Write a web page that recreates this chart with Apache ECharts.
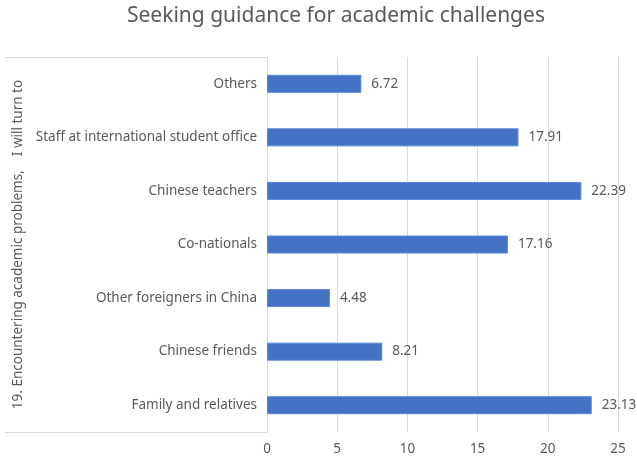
<!DOCTYPE html>
<html>
<head>
<meta charset="utf-8">
<script src="https://cdn.jsdelivr.net/npm/echarts@6/dist/echarts.min.js"></script>
<style>
  html, body { margin: 0; padding: 0; background: #fff; }
  #chart { width: 637px; height: 458px; }
</style>
</head>
<body>
<div id="chart"></div>
<script>
// --- Data (bottom to top, as drawn) ---
const categories = [
    'Family and relatives',
    'Chinese friends',
    'Other foreigners in China',
    'Co-nationals',
    'Chinese teachers',
    'Staff at international student office',
    'Others'
];
const shares = [23.13, 8.21, 4.48, 17.16, 22.39, 17.91, 6.72];
const groupLabel = ['19. Encountering academic problems,\u3000I will turn to'];
const xTicks = { min: 0, max: 25, interval: 5 };

const textGray = '#595959';
const lineGray = '#d9d9d9';
const fontFamily = '"Noto Sans", sans-serif';

const chart = echarts.init(document.getElementById('chart'), null, { renderer: 'canvas' });

chart.setOption({
    animation: false,
    textStyle: { fontFamily: fontFamily },
    title: {
        text: 'Seeking guidance for academic challenges',
        left: 122,
        top: 1,
        textStyle: { color: textGray, fontSize: 21, fontWeight: 'normal', fontFamily: fontFamily }
    },
    grid: { left: 267, right: 19, top: 57, bottom: 26, containLabel: false },
    xAxis: {
        type: 'value',
        min: xTicks.min,
        max: xTicks.max,
        interval: xTicks.interval,
        axisLine: { show: false },
        axisTick: { show: false },
        axisLabel: { color: textGray, fontSize: 13.5, margin: 10 },
        splitLine: { lineStyle: { color: lineGray, width: 1 } }
    },
    yAxis: [
        {
            type: 'category',
            data: categories,
            position: 'left',
            axisLine: { lineStyle: { color: lineGray } },
            axisTick: { show: false },
            axisLabel: { color: textGray, fontSize: 13.5, margin: 10 }
        },
        {
            // outer group level: a single band whose ticks draw the bracket lines
            type: 'category',
            data: groupLabel,
            position: 'left',
            axisLine: { show: false },
            axisTick: { show: true, inside: false, length: 262, lineStyle: { color: lineGray } },
            axisLabel: { color: textGray, fontSize: 13.5, rotate: 90, margin: 242 },
            splitLine: { show: false }
        }
    ],
    series: [{
        type: 'bar',
        yAxisIndex: 0,
        data: shares,
        barWidth: 18,
        itemStyle: { color: '#4472c4', borderColor: '#5b87d6', borderWidth: 1 },
        label: {
            show: true,
            position: 'right',
            distance: 10,
            color: textGray,
            fontSize: 13.5,
            formatter: p => p.value.toFixed(2)
        }
    }]
});
</script>
</body>
</html>
